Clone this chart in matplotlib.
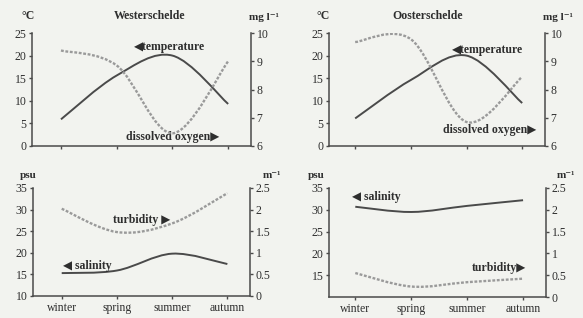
import numpy as np
import matplotlib
matplotlib.use('Agg')
import matplotlib.pyplot as plt
from matplotlib.path import Path
from matplotlib.patches import PathPatch

# 字体设置
plt.rcParams['font.family'] = ['Liberation Serif', 'DejaVu Sans']
plt.rcParams['font.size'] = 8.5

# 数据
SEASONS = ['winter', 'spring', 'summer', 'autumn']
SEASON_X = [1, 2, 3, 4]

# Westerschelde
W_TEMP = [5.9, 15.6, 20.0, 9.3]          # °C
W_OXY = [9.38, 8.85, 6.45, 9.0]          # mg l-1
W_SAL = [15.3, 15.9, 19.8, 17.4]         # psu
W_TURB = [2.02, 1.48, 1.68, 2.38]        # m-1

# Oosterschelde
O_TEMP = [6.1, 14.6, 20.0, 9.5]
O_OXY = [9.68, 9.78, 6.85, 8.45]
O_SAL = [30.7, 29.5, 30.9, 32.2]
O_TURB = [0.55, 0.24, 0.34, 0.42]

BG = '#f2f3ef'
DARK = '#4a4a4a'
LIGHT = '#9a9a9a'
TXT = '#2e2e2e'
DOTS = (0, (1.2, 0.7))
W, H = 583, 318


def smooth_path(xs, ys):
    # 类似Excel平滑线的贝塞尔曲线
    pts = np.column_stack([xs, ys]).astype(float)
    n = len(pts)
    verts = [pts[0]]
    codes = [Path.MOVETO]
    for i in range(n - 1):
        p0 = pts[i - 1] if i > 0 else pts[i]
        p1, p2 = pts[i], pts[i + 1]
        p3 = pts[i + 2] if i + 2 < n else pts[i + 1]
        verts += [p1 + (p2 - p0) / 6, p2 - (p3 - p1) / 6, p2]
        codes += [Path.CURVE4] * 3
    return Path(verts, codes)


def draw_line(ax, ys, color, ls, lw):
    patch = PathPatch(smooth_path(SEASON_X, ys), facecolor='none',
                      edgecolor=color, linestyle=ls, linewidth=lw)
    ax.add_patch(patch)


def rect(l, t, r, b):
    return [l / W, 1 - b / H, (r - l) / W, (b - t) / H]


def fig_text(fig, x, y, s, **kw):
    fig.text(x / W, 1 - y / H, s, ha='center', va='center', color=TXT, **kw)


def make_panel(fig, box, xlim, lylim, lyticks, rylim, ryticks, show_x):
    ax = fig.add_axes(box)
    ax.set_facecolor(BG)
    ax.set_xlim(*xlim)
    ax.set_ylim(*lylim)
    ax.set_yticks(lyticks)
    ax.set_xticks(SEASON_X)
    if show_x:
        ax.set_xticklabels(SEASONS, fontsize=8.5)
    else:
        ax.set_xticklabels([])
    ax2 = ax.twinx()
    ax2.set_ylim(*rylim)
    ax2.set_yticks(ryticks)
    ax2.set_yticklabels([('%g' % v) for v in ryticks])
    for a in (ax, ax2):
        a.spines['top'].set_visible(False)
        for s in ('left', 'right', 'bottom'):
            a.spines[s].set_color(DARK)
            a.spines[s].set_linewidth(1.1)
        a.tick_params(colors=DARK, labelcolor=TXT, length=2.5, width=1, pad=1.5, labelsize=8.5)
    ax2.spines['left'].set_visible(False)
    ax2.spines['bottom'].set_visible(False)
    ax.spines['right'].set_visible(False)
    return ax, ax2


fig = plt.figure(figsize=(5.83, 3.18), dpi=100)
fig.patch.set_facecolor(BG)

# 上左：Westerschelde 温度/溶解氧
ax, ax2 = make_panel(fig, rect(32, 33, 251, 146), (0.48, 4.41), (0, 25), range(0, 26, 5),
                     (6, 10), [6, 7, 8, 9, 10], False)
draw_line(ax, W_TEMP, DARK, '-', 1.4)
draw_line(ax2, W_OXY, LIGHT, DOTS, 1.7)
ax.text(2.94, 21.9, '◀temperature', ha='center', va='center', fontweight='bold', color=TXT)
ax.text(3.01, 2.0, 'dissolved oxygen▶', ha='center', va='center', fontweight='bold', color=TXT)

# 上右：Oosterschelde 温度/溶解氧
ax, ax2 = make_panel(fig, rect(329, 33, 545, 146), (0.53, 4.41), (0, 25), range(0, 26, 5),
                     (6, 10), [6, 7, 8, 9, 10], False)
draw_line(ax, O_TEMP, DARK, '-', 1.4)
draw_line(ax2, O_OXY, LIGHT, DOTS, 1.7)
ax.text(3.37, 21.3, '◀temperature', ha='center', va='center', fontweight='bold', color=TXT)
ax.text(3.42, 3.5, 'dissolved oxygen▶', ha='center', va='center', fontweight='bold', color=TXT)

# 下左：Westerschelde 盐度/浊度
ax, ax2 = make_panel(fig, rect(33, 188, 250, 296), (0.48, 4.41), (10, 35), range(10, 36, 5),
                     (0, 2.5), [0, 0.5, 1, 1.5, 2, 2.5], True)
draw_line(ax, W_SAL, DARK, '-', 1.4)
draw_line(ax2, W_TURB, LIGHT, DOTS, 1.7)
ax.text(2.44, 27.6, 'turbidity ▶', ha='center', va='center', fontweight='bold', color=TXT)
ax.text(1.47, 16.9, '◀ salinity', ha='center', va='center', fontweight='bold', color=TXT)

# 下右：Oosterschelde 盐度/浊度
ax, ax2 = make_panel(fig, rect(329, 188, 546, 297), (0.53, 4.41), (10, 35), range(15, 36, 5),
                     (0, 2.5), [0, 0.5, 1, 1.5, 2, 2.5], True)
draw_line(ax, O_SAL, DARK, '-', 1.4)
draw_line(ax2, O_TURB, LIGHT, DOTS, 1.7)
ax.text(1.38, 32.9, '◀ salinity', ha='center', va='center', fontweight='bold', color=TXT)
ax.text(3.57, 16.7, 'turbidity▶', ha='center', va='center', fontweight='bold', color=TXT)

# 标题与单位
fig_text(fig, 150, 16, 'Westerschelde', fontweight='bold', fontsize=8.5)
fig_text(fig, 428, 16, 'Oosterschelde', fontweight='bold', fontsize=8.5)
fig_text(fig, 28, 16, '°C', fontweight='bold', fontsize=8.5)
fig_text(fig, 323, 16, '°C', fontweight='bold', fontsize=8.5)
fig_text(fig, 264, 18, 'mg l⁻¹', fontweight='bold', fontsize=8)
fig_text(fig, 558, 18, 'mg l⁻¹', fontweight='bold', fontsize=8)
fig_text(fig, 28, 175, 'psu', fontweight='bold', fontsize=8)
fig_text(fig, 316, 175, 'psu', fontweight='bold', fontsize=8)
fig_text(fig, 272, 176, 'm⁻¹', fontweight='bold', fontsize=8)
fig_text(fig, 566, 176, 'm⁻¹', fontweight='bold', fontsize=8)

fig.savefig('out.png', dpi=100, facecolor=BG)
